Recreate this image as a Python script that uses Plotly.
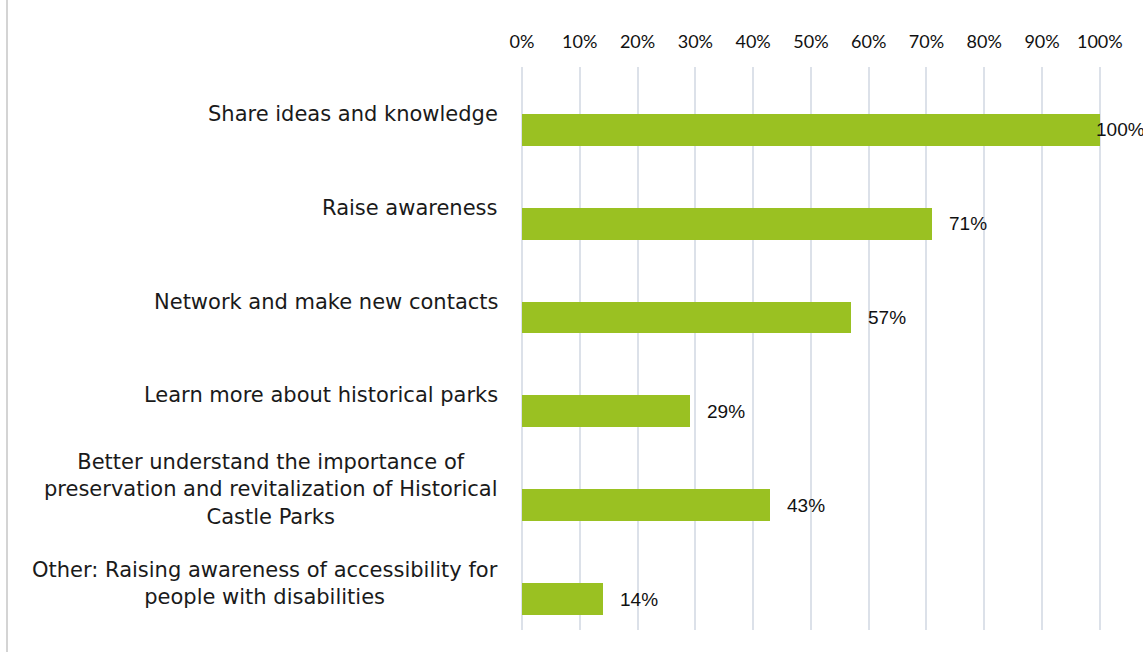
import plotly.graph_objects as go

# Survey answers and their shares (%)
categories = [
    "Share ideas and knowledge",
    "Raise awareness",
    "Network and make new contacts",
    "Learn more about historical parks",
    "Better understand the importance of<br>preservation and revitalization of Historical<br>Castle Parks",
    "Other: Raising awareness of accessibility for<br>people with disabilities",
]
shares = [100, 71, 57, 29, 43, 14]
tick_values = list(range(0, 101, 10))
tick_labels = [f"{v}%" for v in tick_values]

BAR_COLOR = "#9AC122"
GRID_COLOR = "#DCE1E9"
W, H = 1143, 652
M_LEFT, M_RIGHT, M_TOP, M_BOTTOM = 522, 42, 67, 22
X_MAX = 100.2

positions = list(range(len(categories)))

fig = go.Figure()
fig.add_trace(go.Bar(
    x=shares,
    y=positions,
    orientation="h",
    width=0.34,
    offset=0,
    marker=dict(color=BAR_COLOR, line=dict(width=0)),
    hoverinfo="skip",
))

# Value labels to the right of each bar; a full-length bar keeps its label tight
for pos, val in zip(positions, shares):
    fig.add_annotation(
        x=val, y=pos + 0.17, xref="x", yref="y",
        text=f"{val}%", showarrow=False,
        xanchor="left", yanchor="middle",
        xshift=-6 if val >= 100 else 15,
        font=dict(family="Liberation Sans", size=19, color="#111111"),
    )

# Category labels, centred block text to the left of the axis
for pos, label in zip(positions, categories):
    fig.add_annotation(
        x=0, y=pos, xref="x", yref="y",
        text=label, showarrow=False,
        xanchor="right", yanchor="middle", align="center",
        xshift=-22,
        font=dict(family="DejaVu Sans", size=21, color="#1a1a1a"),
    )

# Thin frame line on the left edge of the chart area
plot_w = W - M_LEFT - M_RIGHT
fig.add_shape(
    type="line", xref="paper", yref="paper",
    x0=(7 - M_LEFT) / plot_w, x1=(7 - M_LEFT) / plot_w,
    y0=-1, y1=2,
    line=dict(color="#D4D4D4", width=2),
)

fig.update_layout(
    width=W, height=H,
    margin=dict(l=M_LEFT, r=M_RIGHT, t=M_TOP, b=M_BOTTOM, autoexpand=False),
    paper_bgcolor="white",
    plot_bgcolor="white",
    showlegend=False,
    bargap=0,
    xaxis=dict(
        side="top",
        range=[0, X_MAX],
        tickvals=tick_values,
        ticktext=tick_labels,
        showgrid=True,
        gridcolor=GRID_COLOR,
        gridwidth=2,
        zeroline=True,
        zerolinecolor=GRID_COLOR,
        zerolinewidth=2,
        showline=False,
        ticks="",
        ticklabelstandoff=14,
        tickfont=dict(family="Lato", size=18, color="#111111"),
    ),
    yaxis=dict(
        range=[len(categories) - 0.5, -0.5],
        showticklabels=False,
        showgrid=False,
        zeroline=False,
        showline=False,
        ticks="",
    ),
)

fig.write_html("out.html")
